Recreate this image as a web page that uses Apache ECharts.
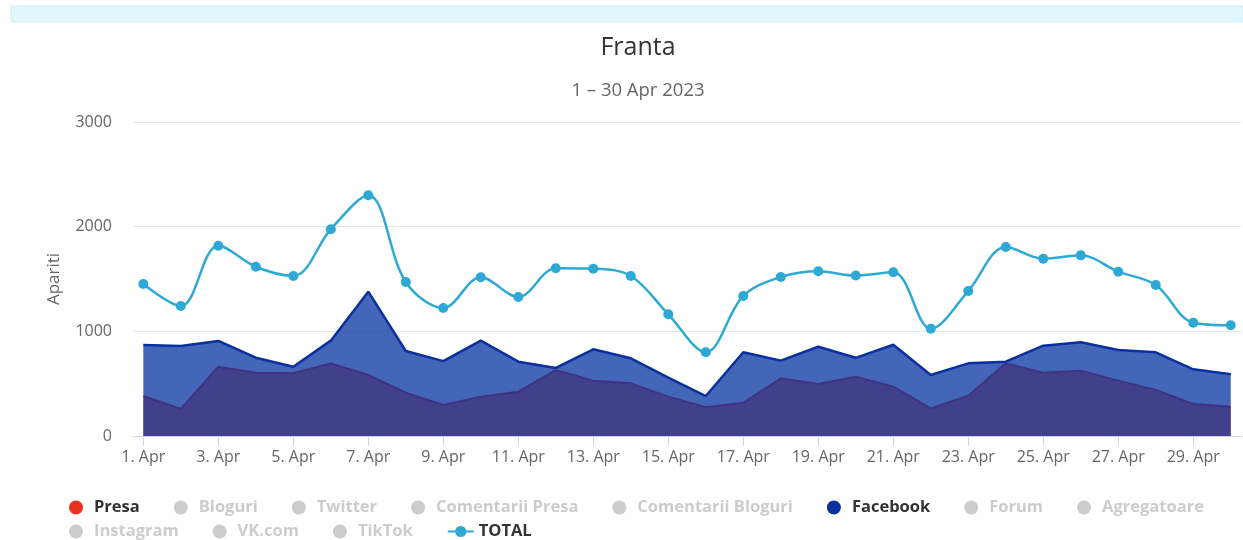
<!DOCTYPE html>
<html>
<head>
<meta charset="utf-8">
<script src="https://cdn.jsdelivr.net/npm/echarts@6/dist/echarts.min.js"></script>
<style>
html,body{margin:0;padding:0;background:#fff;}
#chart{width:1243px;height:540px;}
</style>
</head>
<body>
<div id="chart"></div>
<script>
// ---- data ----
const days = ['1. Apr','2. Apr','3. Apr','4. Apr','5. Apr','6. Apr','7. Apr','8. Apr','9. Apr','10. Apr',
  '11. Apr','12. Apr','13. Apr','14. Apr','15. Apr','16. Apr','17. Apr','18. Apr','19. Apr','20. Apr',
  '21. Apr','22. Apr','23. Apr','24. Apr','25. Apr','26. Apr','27. Apr','28. Apr','29. Apr','30. Apr'];
const presa = [382,258,662,605,599,694,583,414,296,376,423,630,529,503,376,274,318,551,497,567,
  471,264,385,694,605,624,529,440,306,280];
const facebook = [869,860,908,748,662,911,1379,812,715,911,710,650,828,742,557,382,800,720,853,747,
  872,583,694,710,863,895,822,800,637,589];
const total = [1452,1242,1818,1617,1529,1975,2300,1471,1223,1516,1328,1602,1598,1529,1163,800,1338,1519,1574,1533,
  1564,1025,1385,1806,1694,1726,1570,1443,1082,1058];
const yTicks = [0,1000,2000,3000];
const legendRow1 = ['Presa','Bloguri','Twitter','Comentarii Presa','Comentarii Bloguri','Facebook','Forum','Agregatoare'];
const legendRow2 = ['Instagram','VK.com','TikTok','TOTAL'];
const inactive = ['Bloguri','Twitter','Comentarii Presa','Comentarii Bloguri','Forum','Agregatoare','Instagram','VK.com','TikTok'];
const labelIdx = days.map((d,i)=>i).filter(i=>i%2===0);

// ---- chart ----
const C = {presa:'#e8341c', fb:'#0633a0', total:'#2ea9d6'};
const toPairs = arr => arr.map((v,i)=>[i,v]);
const selected = {};
inactive.forEach(n=>selected[n]=false);
const legendItem = n => {
  if (n==='TOTAL') return {name:n};
  const it = {name:n, icon:'circle'};
  if (n==='Presa') it.itemStyle = {color:C.presa};
  if (n==='Facebook') it.itemStyle = {color:'#0a2f9f'};
  return it;
};
const legendBase = {
  orient:'horizontal', itemWidth:26, itemHeight:14, itemGap:34,
  selected: selected, inactiveColor:'#cccccc',
  textStyle:{fontFamily:'Open Sans', fontWeight:'bold', fontSize:16.5, color:'#333333'}
};
const series = [];
series.push({name:'Presa', type:'line', data:toPairs(presa), symbol:'none', z:1,
  itemStyle:{color:C.presa}, lineStyle:{color:C.presa, width:2},
  areaStyle:{color:C.presa, opacity:0.75}});
inactive.slice(0,5).forEach(n=>series.push({name:n,type:'line',data:[],itemStyle:{color:'#999'}}));
series.push({name:'Facebook', type:'line', data:toPairs(facebook), symbol:'none', z:2,
  itemStyle:{color:C.fb}, lineStyle:{color:'#0a2f9f', width:2.5},
  areaStyle:{color:C.fb, opacity:0.75}});
inactive.slice(5).forEach(n=>series.push({name:n,type:'line',data:[],itemStyle:{color:'#999'}}));
series.push({name:'TOTAL', type:'line', data:toPairs(total), smooth:0.35, z:3,
  symbol:'circle', symbolSize:10, showSymbol:true,
  itemStyle:{color:C.total}, lineStyle:{color:C.total, width:2.5}});

const chart = echarts.init(document.getElementById('chart'), null, {renderer:'canvas'});
chart.setOption({
  animation:false,
  backgroundColor:'#ffffff',
  textStyle:{fontFamily:'Open Sans'},
  graphic:[{type:'rect', shape:{x:11,y:6,width:1232,height:16}, style:{fill:'#dff6fb', stroke:'#cdeef6', lineWidth:1}, silent:true}],
  title:[
    {text:'Franta', left:638, top:35, padding:0, textAlign:'center',
      textStyle:{fontFamily:'Open Sans', fontSize:25, fontWeight:'normal', color:'#333333'}},
    {text:'1 – 30 Apr 2023', left:638, top:81, padding:0, textAlign:'center',
      textStyle:{fontFamily:'Open Sans', fontSize:18.5, fontWeight:'normal', color:'#666666'}}
  ],
  legend:[
    Object.assign({}, legendBase, {left:64, top:494, data:legendRow1.map(legendItem)}),
    Object.assign({}, legendBase, {left:64, top:518, data:legendRow2.map(legendItem)})
  ],
  grid:{left:133, right:1, top:122, bottom:104, containLabel:false},
  xAxis:{type:'value', min:-0.275, max:29.3,
    axisLine:{show:true, lineStyle:{color:'#ccd6eb', width:1}},
    axisTick:{show:true, customValues:labelIdx, length:10, lineStyle:{color:'#ccd6eb'}},
    axisLabel:{customValues:labelIdx, formatter:v=>days[Math.round(v)], color:'#666666', fontSize:16, margin:13},
    splitLine:{show:false}},
  yAxis:{type:'value', min:yTicks[0], max:yTicks[yTicks.length-1], interval:1000,
    name:'Apariti', nameLocation:'middle', nameGap:70,
    nameTextStyle:{color:'#666666', fontSize:17},
    axisLine:{show:false}, axisTick:{show:false},
    axisLabel:{color:'#666666', fontSize:16, margin:21, formatter:v=>String(v)},
    splitLine:{lineStyle:{color:'#e6e6e6'}}},
  series: series
});
</script>
</body>
</html>
